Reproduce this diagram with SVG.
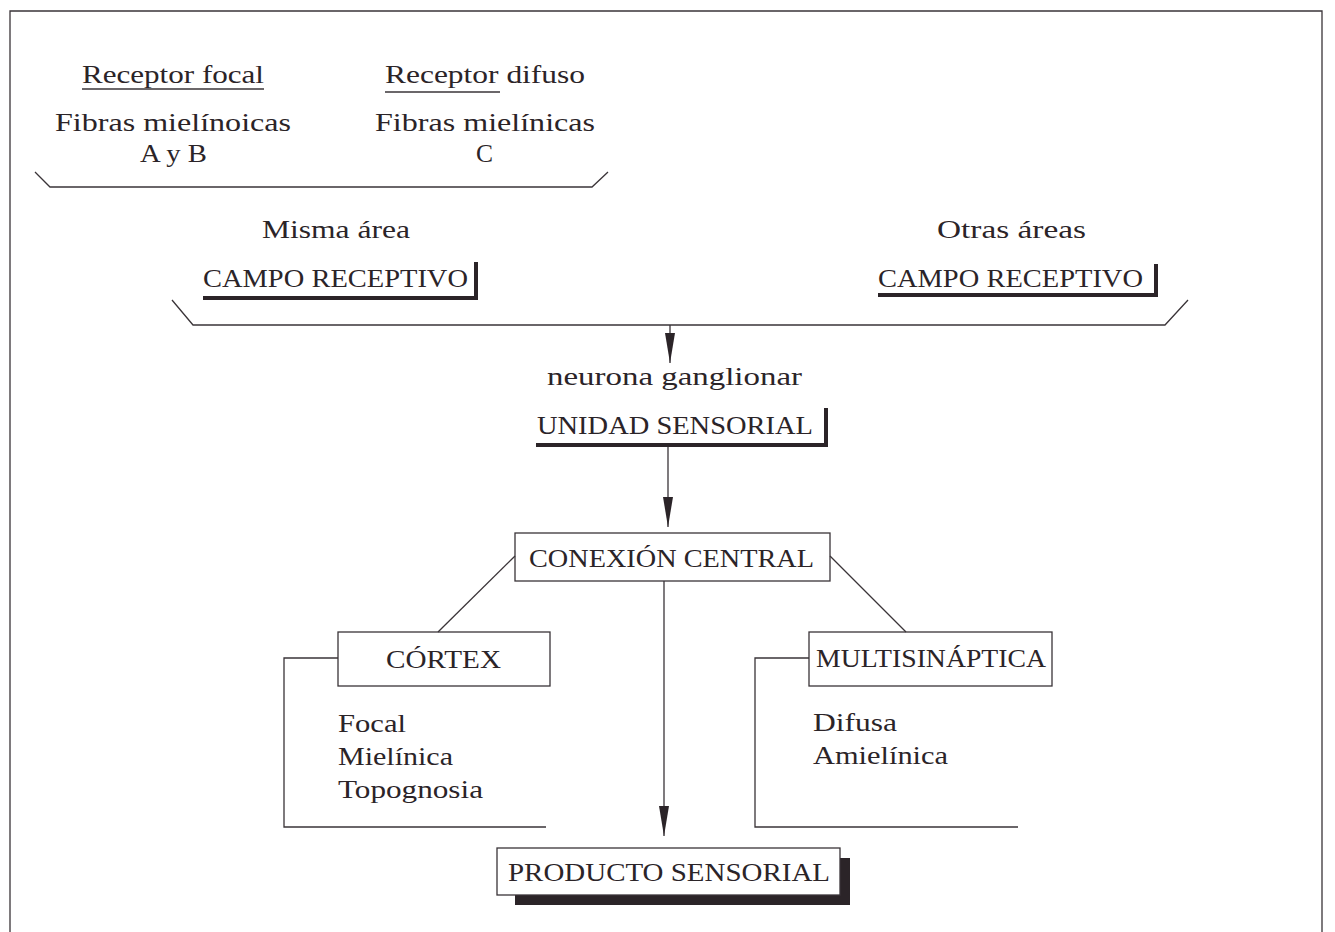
<svg xmlns="http://www.w3.org/2000/svg" width="1335" height="932" viewBox="0 0 1335 932">
<defs>
<style>
text{font-family:"Liberation Serif","DejaVu Serif",serif;font-size:26px;fill:#2b2428;}
.ln{stroke:#3a3438;stroke-width:1.3;fill:none;}
.box{stroke:#3a3438;stroke-width:1.3;fill:#fff;}
.sh{stroke:#2b2428;stroke-width:4;fill:none;}
</style>
<marker id="arr" viewBox="0 0 30 10" refX="30" refY="5" markerWidth="30" markerHeight="10" markerUnits="userSpaceOnUse" orient="auto">
<path d="M0,0 L30,5 L0,10 Z" fill="#2b2428"/>
</marker>
</defs>
<rect width="1335" height="932" fill="#fff"/>
<path class="ln" d="M10,932 L10,11 L1322,11 L1322,932"/>

<g id="receptor-focal">
<text x="82" y="83" textLength="182" lengthAdjust="spacingAndGlyphs">Receptor focal</text>
<line class="ln" x1="82" y1="89" x2="264" y2="89"/>
<text x="55" y="131" textLength="236" lengthAdjust="spacingAndGlyphs">Fibras mielínoicas</text>
<text x="140" y="162" textLength="67" lengthAdjust="spacingAndGlyphs">A y B</text>
</g>
<g id="receptor-difuso">
<text x="385" y="83" textLength="200" lengthAdjust="spacingAndGlyphs">Receptor difuso</text>
<line class="ln" x1="385" y1="92" x2="500" y2="92"/>
<text x="375" y="131" textLength="220" lengthAdjust="spacingAndGlyphs">Fibras mielínicas</text>
<text x="476" y="162" textLength="17" lengthAdjust="spacingAndGlyphs">C</text>
</g>
<g id="campo-misma">
<text x="262" y="238" textLength="148" lengthAdjust="spacingAndGlyphs">Misma área</text>
<text x="203" y="287" textLength="265" lengthAdjust="spacingAndGlyphs">CAMPO RECEPTIVO</text>
<path class="sh" d="M203,298 L476,298 L476,262"/>
</g>
<g id="campo-otras">
<text x="937" y="238" textLength="149" lengthAdjust="spacingAndGlyphs">Otras áreas</text>
<text x="878" y="287" textLength="265" lengthAdjust="spacingAndGlyphs">CAMPO RECEPTIVO</text>
<path class="sh" d="M878,295 L1156,295 L1156,264"/>
</g>
<g id="unidad-sensorial">
<text x="547" y="385" textLength="255" lengthAdjust="spacingAndGlyphs">neurona ganglionar</text>
<text x="537" y="434" textLength="276" lengthAdjust="spacingAndGlyphs">UNIDAD SENSORIAL</text>
<path class="sh" d="M536,445 L826,445 L826,408"/>
</g>
<g id="conexion-central">
<rect class="box" x="515" y="533" width="315" height="48"/>
<text x="529" y="567" textLength="285" lengthAdjust="spacingAndGlyphs">CONEXIÓN CENTRAL</text>
</g>
<g id="cortex">
<rect class="box" x="338" y="632" width="212" height="54"/>
<text x="386" y="668" textLength="115" lengthAdjust="spacingAndGlyphs">CÓRTEX</text>
<text x="338" y="732" textLength="68" lengthAdjust="spacingAndGlyphs">Focal</text>
<text x="338" y="765" textLength="115" lengthAdjust="spacingAndGlyphs">Mielínica</text>
<text x="338" y="798" textLength="145" lengthAdjust="spacingAndGlyphs">Topognosia</text>
</g>
<g id="multisinaptica">
<rect class="box" x="809" y="632" width="243" height="54"/>
<text x="816" y="667" textLength="230" lengthAdjust="spacingAndGlyphs">MULTISINÁPTICA</text>
<text x="813" y="731" textLength="84" lengthAdjust="spacingAndGlyphs">Difusa</text>
<text x="813" y="764" textLength="135" lengthAdjust="spacingAndGlyphs">Amielínica</text>
</g>
<g id="producto-sensorial">
<rect x="515" y="858" width="335" height="47" fill="#2b2428"/>
<rect class="box" x="497" y="848" width="343" height="47"/>
<text x="508" y="881" textLength="322" lengthAdjust="spacingAndGlyphs">PRODUCTO SENSORIAL</text>
</g>

<g id="connectors">
<path class="ln" d="M35,172 L50,187 L592,187 L608,172"/>
<path class="ln" d="M172,300 L193,325 L1165,325 L1188,300"/>
<line class="ln" x1="670" y1="325" x2="670" y2="363" marker-end="url(#arr)"/>
<line class="ln" x1="668" y1="447" x2="668" y2="527" marker-end="url(#arr)"/>
<line class="ln" x1="515" y1="556" x2="438" y2="632"/>
<line class="ln" x1="830" y1="556" x2="906" y2="632"/>
<line class="ln" x1="664" y1="581" x2="664" y2="836" marker-end="url(#arr)"/>
<path class="ln" d="M338,658 L284,658 L284,827 L546,827"/>
<path class="ln" d="M809,658 L755,658 L755,827 L1018,827"/>
</g>
</svg>
